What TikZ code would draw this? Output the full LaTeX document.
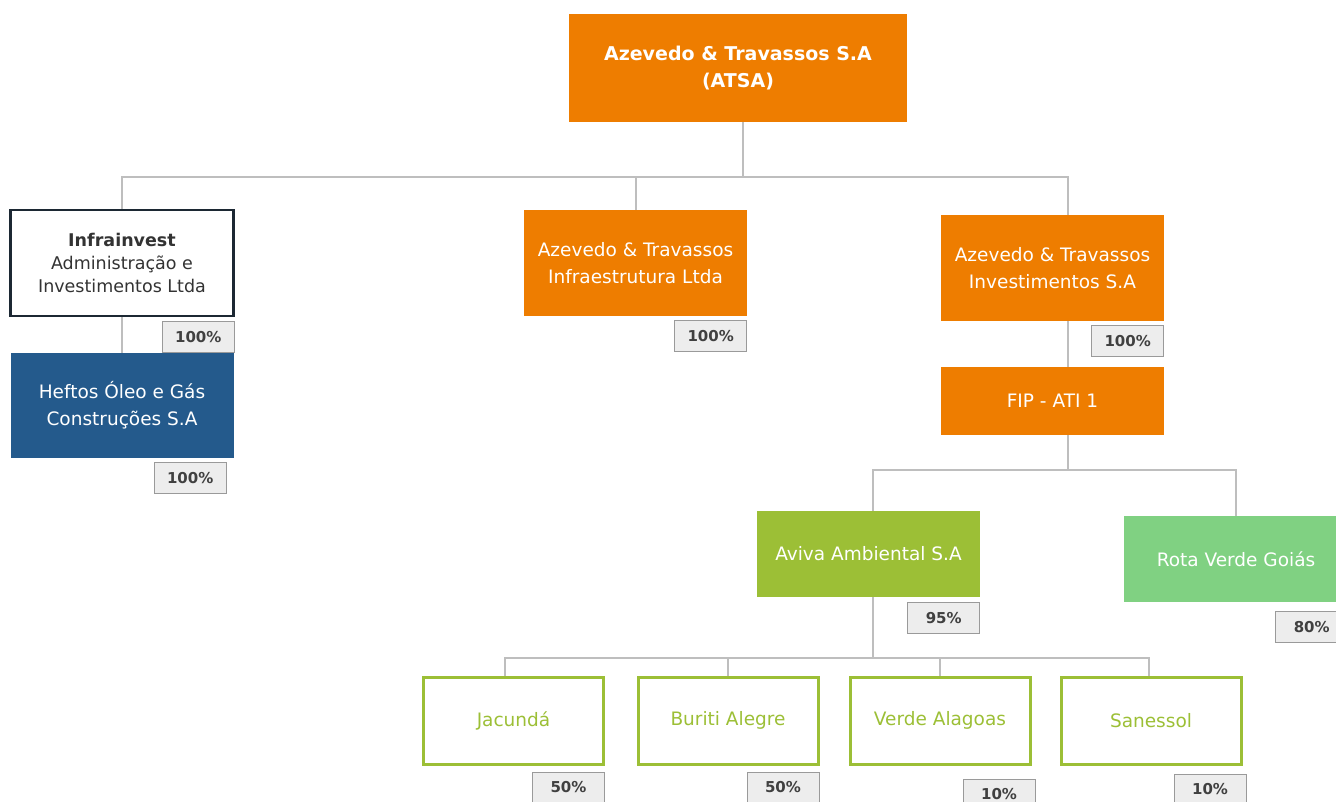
\documentclass[tikz,border=0pt]{standalone}
\usepackage{fontspec}
\setmainfont{DejaVu Sans}
\usetikzlibrary{positioning}
\definecolor{atorange}{HTML}{EE7D00}
\definecolor{atblue}{HTML}{245A8C}
\definecolor{atgreen}{HTML}{9CBF36}
\definecolor{atlight}{HTML}{80D182}
\definecolor{atnavy}{HTML}{1C2833}
\definecolor{linkgray}{HTML}{BEBEBE}
\definecolor{pctfill}{HTML}{EDEDED}
\definecolor{pctline}{HTML}{9A9A9A}

\begin{document}
\begin{tikzpicture}[x=1pt,y=-1pt,
  box/.style={rectangle, minimum width=223pt, minimum height=106pt, inner sep=0pt,
    align=center, font=\fontsize{18.5}{27}\selectfont},
  orangebox/.style={box, fill=atorange, text=white},
  leaf/.style={box, draw=atgreen, line width=3pt, text=atgreen,
    minimum width=180pt, minimum height=87pt},
  pct/.style={draw=pctline, fill=pctfill, line width=1pt, minimum width=72pt,
    minimum height=31pt, inner sep=0pt, anchor=north east,
    font=\bfseries\fontsize{15}{17}\selectfont, text=black!75},
  link/.style={draw=linkgray, line width=2pt}]
\useasboundingbox (0,0) rectangle (1336,801);

% boxes
\node[orangebox, minimum width=338pt, minimum height=108pt,
  font=\bfseries\fontsize{19}{27}\selectfont] (atsa) at (738,68) {Azevedo \& Travassos S.A\\(ATSA)};
\node[box, fill=white, draw=atnavy, line width=2.5pt, text=black!80,
  font=\fontsize{17.5}{23}\selectfont] (infra) at (122,263) {\textbf{Infrainvest}\\Administração e\\Investimentos Ltda};
\node[orangebox] (infraest) at (635.5,263) {Azevedo \& Travassos\\Infraestrutura Ltda};
\node[orangebox] (invest) at (1052.5,268) {Azevedo \& Travassos\\Investimentos S.A};
\node[orangebox, minimum height=68pt] (fip) at (1052.5,401) {FIP - ATI 1};
\node[box, fill=atblue, text=white, minimum height=105pt] (heftos) at (122,405.5) {Heftos Óleo e Gás\\Construções S.A};
\node[box, fill=atgreen, text=white, minimum height=86pt] (aviva) at (868.5,554) {Aviva Ambiental S.A};
\node[box, fill=atlight, text=white, minimum height=86pt, minimum width=224pt] (rota) at (1236,559) {Rota Verde Goiás};
\node[leaf] (jacunda) at (513.5,720.5) {Jacundá};
\node[leaf] (buriti) at (728,720.5) {Buriti Alegre};
\node[leaf] (verde) at (940,720.5) {Verde Alagoas};
\node[leaf] (sanessol) at (1151,720.5) {Sanessol};

% links
\draw[link] ([xshift=5pt]atsa.south) -- ++(0,55) coordinate (bus1);
\draw[link] (bus1) -| (infra.north);
\draw[link] (bus1) -| (infraest.north);
\draw[link] (bus1) -| ([xshift=15pt]invest.north);
\draw[link] (infra.south) -- (heftos.north);
\draw[link] ([xshift=15pt]invest.south) -- ([xshift=15pt]fip.north);
\draw[link] ([xshift=15pt]fip.south) -- ++(0,35) coordinate (bus2);
\draw[link] (bus2) -| ([xshift=4pt]aviva.north);
\draw[link] (bus2) -| (rota.north);
\draw[link] ([xshift=4pt]aviva.south) -- ++(0,61) coordinate (bus3);
\draw[link] (bus3) -| ([xshift=-8.5pt]jacunda.north);
\draw[link] (bus3) -| (buriti.north);
\draw[link] (bus3) -| (verde.north);
\draw[link] (bus3) -| ([xshift=-2pt]sanessol.north);

% shares
\node[pct] (pInfra) at ([yshift=-4pt]infra.south east) {100\%};
\node[pct] (pInfraest) at ([yshift=-4pt]infraest.south east) {100\%};
\node[pct] (pInvest) at ([yshift=-4pt]invest.south east) {100\%};
\node[pct] (pHeftos) at ([xshift=-7pt,yshift=-4pt]heftos.south east) {100\%};
\node[pct] (pAviva) at ([yshift=-5pt]aviva.south east) {95\%};
\node[pct] (pRota) at ([yshift=-9pt]rota.south east) {80\%};
\node[pct] (pJacunda) at ([yshift=-6pt]jacunda.south east) {50\%};
\node[pct] (pBuriti) at ([yshift=-6pt]buriti.south east) {50\%};
\node[pct] (pVerde) at ([xshift=4pt,yshift=-13pt]verde.south east) {10\%};
\node[pct] (pSanessol) at ([xshift=4pt,yshift=-8pt]sanessol.south east) {10\%};
\end{tikzpicture}
\end{document}
